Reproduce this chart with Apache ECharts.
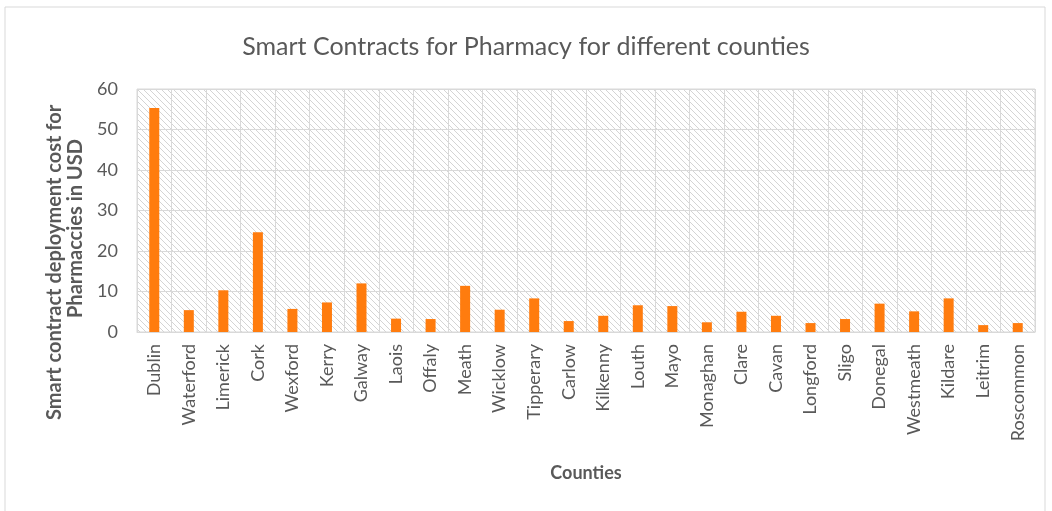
<!DOCTYPE html>
<html><head><meta charset="utf-8">
<script src="https://cdn.jsdelivr.net/npm/echarts@6/dist/echarts.min.js"></script>
<style>html,body{margin:0;padding:0;background:#fff}#c{width:1052px;height:511px}</style>
</head><body><div id="c"></div>
<script>
const counties = ["Dublin","Waterford","Limerick","Cork","Wexford","Kerry","Galway","Laois","Offaly","Meath","Wicklow","Tipperary","Carlow","Kilkenny","Louth","Mayo","Monaghan","Clare","Cavan","Longford","Sligo","Donegal","Westmeath","Kildare","Leitrim","Roscommon"];
const costs = [55.3,5.4,10.3,24.6,5.7,7.3,12.0,3.3,3.2,11.4,5.5,8.3,2.7,4.0,6.6,6.4,2.4,5.0,4.0,2.2,3.2,7.0,5.1,8.3,1.7,2.2];
const yTicks = [0,10,20,30,40,50,60];
const yNameLines = ['Smart contract deployment cost for', 'Pharmaccies in USD'];

const pc = document.createElement('canvas');
pc.width = 6; pc.height = 6;
const g = pc.getContext('2d');
g.fillStyle = '#ffffff'; g.fillRect(0,0,6,6);
g.strokeStyle = '#d4d4d4'; g.lineWidth = 1;
g.beginPath();
g.moveTo(0,0); g.lineTo(6,6);
g.moveTo(-3,3); g.lineTo(3,9);
g.moveTo(3,-3); g.lineTo(9,3);
g.stroke();

const font = 'Lato, "Open Sans", sans-serif';
const nameStyle = {align: 'left', verticalAlign: 'middle', fontFamily: font,
  fontSize: 20, fontWeight: 'bold', fill: '#595959'};
const chart = echarts.init(document.getElementById('c'));
chart.setOption({
  animation: false,
  title: {text: 'Smart Contracts for Pharmacy for different counties', left: 'center', top: 29,
    textStyle: {fontFamily: font, fontSize: 25, fontWeight: 'normal', color: '#595959'}},
  graphic: [
    {type: 'rect', shape: {x: 5, y: 7, width: 1040, height: 510},
      style: {fill: 'none', stroke: '#d9d9d9', lineWidth: 1}, silent: true},
    {type: 'text', x: 55, y: 420, rotation: Math.PI / 2,
      style: Object.assign({text: yNameLines[0]}, nameStyle)},
    {type: 'text', x: 76, y: 318, rotation: Math.PI / 2,
      style: Object.assign({text: yNameLines[1]}, nameStyle)}
  ],
  grid: {left: 137, right: 17, top: 89, bottom: 179, show: true,
    backgroundColor: {image: pc, repeat: 'repeat'}, borderColor: '#d9d9d9', borderWidth: 1},
  xAxis: {type: 'category', data: counties,
    name: 'Counties', nameLocation: 'middle', nameGap: 132,
    nameTextStyle: {fontFamily: font, fontSize: 18, fontWeight: 'bold', color: '#595959'},
    axisLine: {lineStyle: {color: '#d9d9d9'}}, axisTick: {show: false},
    splitLine: {show: true, lineStyle: {color: '#d9d9d9', width: 1}},
    axisLabel: {rotate: 90, interval: 0, fontFamily: font, fontSize: 18, color: '#595959', margin: 12}},
  yAxis: {type: 'value', min: 0, max: 60, interval: 10,
    axisLine: {show: false}, axisTick: {show: false},
    splitLine: {lineStyle: {color: '#d9d9d9', width: 1}},
    axisLabel: {fontFamily: font, fontSize: 18, color: '#595959', margin: 19,
      formatter: v => yTicks.includes(v) ? String(v) : ''}},
  series: [{type: 'bar', data: costs, barWidth: 10, itemStyle: {color: '#ff7c0e'}}]
});
</script></body></html>
